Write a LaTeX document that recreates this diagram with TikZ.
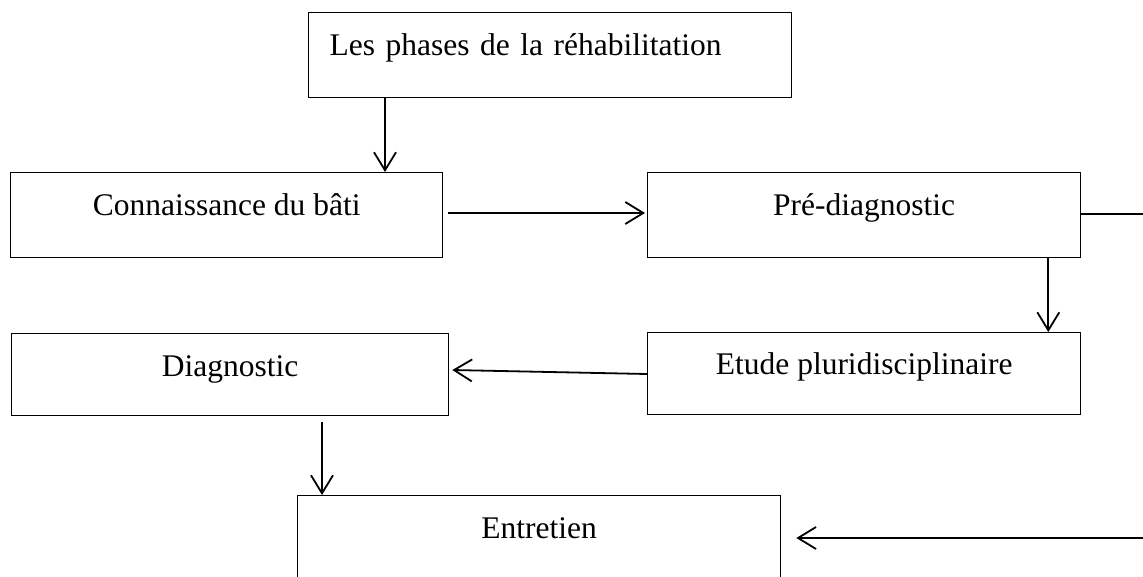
\documentclass[tikz,border=0pt]{standalone}
\usepackage{fontspec}
\setmainfont{Liberation Serif}
\usetikzlibrary{arrows.meta}
\begin{document}
\begin{tikzpicture}[x=1pt,y=-1pt,
  box/.style={draw, line width=1.3pt, rectangle, anchor=north west, inner sep=0pt,
    font=\fontsize{31.5}{36}\selectfont, align=center},
  arr/.style={line width=1.8pt, -{Straight Barb[length=18pt,width=22pt,line width=1.8pt]}},
  ln/.style={line width=1.8pt}]
\useasboundingbox (0,0) rectangle (1143,576);
\clip (0,0) rectangle (1143,576);
\fill[white] (0,0) rectangle (1143,576);
\node[box, text width=441pt, inner xsep=21pt, align=left, text height=43pt, text depth=42pt]
  (title) at (308,12) {Les phases de la réhabilitation};
\node[box, minimum width=432pt, text height=43pt, text depth=42pt] (conn) at (10,172) {Connaissance du bâti};
\node[box, minimum width=433pt, text height=43pt, text depth=42pt] (pre) at (647,172) {Pré-diagnostic};
\node[box, minimum width=433pt, text height=42pt, text depth=40pt] (etude) at (647,332) {Etude pluridisciplinaire};
\node[box, minimum width=437pt, text height=43pt, text depth=39pt] (diag) at (11,333) {Diagnostic};
\node[box, minimum width=483pt, text height=43pt, text depth=57pt] (entr) at (297,495) {Entretien};
\coordinate (rightA) at (1150,214);
\coordinate (rightB) at (1150,538);
\draw[arr] ([shift={(77,0)}]title.south west) -- ([shift={(375,0)}]conn.north west);
\draw[arr] ([shift={(5,41)}]conn.north east) -- ([shift={(-2,41)}]pre.north west);
\draw[ln] ([shift={(0,42)}]pre.north east) -- (rightA);
\draw[arr] ([shift={(-33,0)}]pre.south east) -- ([shift={(-33,0)}]etude.north east);
\draw[arr] ([shift={(0,42)}]etude.north west) -- ([shift={(3,37)}]diag.north east);
\draw[arr] ([shift={(311,6)}]diag.south west) -- ([shift={(25,0)}]entr.north west);
\draw[arr] (rightB) -- ([shift={(15,43)}]entr.north east);
\end{tikzpicture}
\end{document}
